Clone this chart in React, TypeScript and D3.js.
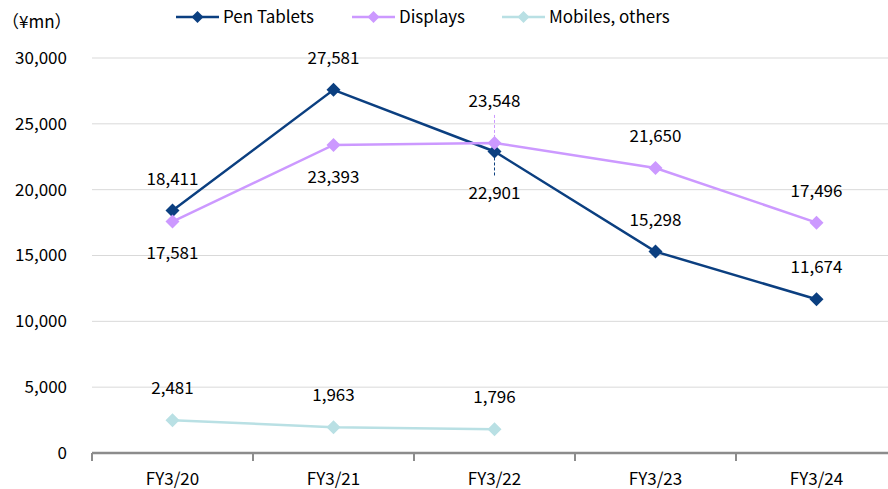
import React from "react";
import * as d3 from "d3";

const categories = ["FY3/20", "FY3/21", "FY3/22", "FY3/23", "FY3/24"];
const penTablets = [18411, 27581, 22901, 15298, 11674];
const displays = [17581, 23393, 23548, 21650, 17496];
const mobiles = [2481, 1963, 1796];
const yTicks = [0, 5000, 10000, 15000, 20000, 25000, 30000];

// label offset: negative = above marker, positive = below
const penLabelPos = [-1, -1, 1, -1, -1];
const dispLabelPos = [1, 1, -1, -1, -1];

const series = [
  { name: "Pen Tablets", values: penTablets, color: "#0b3f80", pos: penLabelPos },
  { name: "Displays", values: displays, color: "#cc99ff", pos: dispLabelPos },
  { name: "Mobiles, others", values: mobiles, color: "#b9e0e4", pos: [-1, -1, -1] },
];

const W = 888, H = 489;
const margin = { top: 58, left: 92, bottom: 36 };
const font = "'Noto Sans CJK JP', 'Noto Sans', sans-serif";
const fs = 17;

export default function App() {
  const x = d3.scaleBand().domain(categories).range([margin.left, margin.left + 161 * 5]);
  const y = d3.scaleLinear().domain([0, 30000]).range([H - margin.bottom, margin.top]);
  const fmt = d3.format(",");
  const cx = (i: number) => (x(categories[i]) as number) + x.bandwidth() / 2;
  const line = d3.line<number>().x((_, i) => cx(i)).y((d) => y(d));
  const diamond = (px: number, py: number, r: number) =>
    `M${px},${py - r}L${px + r},${py}L${px},${py + r}L${px - r},${py}Z`;

  const legendX = [176, 352, 502];

  return (
    <svg width={W} height={H} style={{ position: "absolute", left: 0, top: 0, background: "#fff" }} fontFamily={font}>
      {yTicks.map((t) => (
        <g key={t}>
          {t > 0 && <line x1={margin.left} x2={W} y1={y(t)} y2={y(t)} stroke="#d9d9d9" strokeWidth={1} />}
          <text x={67} y={y(t)} dy="0.35em" textAnchor="end" fontSize={fs} fill="#000">{fmt(t)}</text>
        </g>
      ))}
      <text x={2} y={28} fontSize={fs} fill="#000">（¥mn）</text>
      <line x1={margin.left} x2={W} y1={y(0)} y2={y(0)} stroke="#8c8c8c" strokeWidth={2.5} />
      {categories.map((c, i) => (
        <g key={c}>
          <line x1={x(c) as number} x2={x(c) as number} y1={y(0)} y2={y(0) + 8} stroke="#8c8c8c" strokeWidth={2} />
          <text x={cx(i)} y={y(0) + 26} dy="0.35em" textAnchor="middle" fontSize={fs} fill="#000">{c}</text>
        </g>
      ))}
      <line x1={margin.left + 161 * 5} x2={margin.left + 161 * 5} y1={y(0)} y2={y(0) + 8} stroke="#8c8c8c" strokeWidth={2} />
      {series.map((s) => (
        <g key={s.name}>
          <path d={line(s.values) as string} fill="none" stroke={s.color} strokeWidth={2.5} />
          {s.values.map((v, i) => (
            <path key={i} d={diamond(cx(i), y(v), 7)} fill={s.color} />
          ))}
        </g>
      ))}
      {/* leader lines for FY3/22 labels */}
      <line x1={cx(2)} x2={cx(2)} y1={y(displays[2]) - 28} y2={y(displays[2]) - 6} stroke="#cc99ff" strokeWidth={1} strokeDasharray="3,2" />
      <line x1={cx(2)} x2={cx(2)} y1={y(penTablets[2]) + 6} y2={y(penTablets[2]) + 26} stroke="#0b3f80" strokeWidth={1} strokeDasharray="3,2" />
      {series.map((s) =>
        s.values.map((v, i) => {
          const far = i === 2 && s.name !== "Mobiles, others";
          const off = s.pos[i] * (far ? 42 : 32);
          return (
            <text key={s.name + i} x={cx(i)} y={y(v) + off} dy="0.35em" textAnchor="middle" fontSize={fs} fill="#000">
              {fmt(v)}
            </text>
          );
        })
      )}
      {series.map((s, k) => (
        <g key={s.name} transform={`translate(${legendX[k]},17)`}>
          <line x1={0} x2={43} y1={0} y2={0} stroke={s.color} strokeWidth={2.5} />
          <path d={diamond(21.5, 0, 6)} fill={s.color} />
          <text x={47} y={0} dy="0.35em" fontSize={fs} fill="#000">{s.name}</text>
        </g>
      ))}
    </svg>
  );
}
